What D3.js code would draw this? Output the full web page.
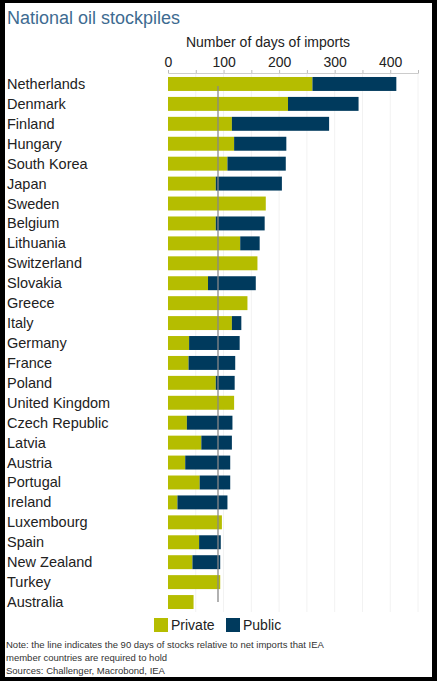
<!DOCTYPE html><html><head><meta charset="utf-8"><script src="https://cdn.jsdelivr.net/npm/d3@7"></script>
<style>body{margin:0;background:#000}svg{display:block;font-family:"Liberation Sans",Arial,sans-serif}</style></head><body><svg id="c" width="437" height="681"></svg>
<script>
const countries=["Netherlands","Denmark","Finland","Hungary","South Korea","Japan","Sweden","Belgium","Lithuania","Switzerland","Slovakia","Greece","Italy","Germany","France","Poland","United Kingdom","Czech Republic","Latvia","Austria","Portugal","Ireland","Luxembourg","Spain","New Zealand","Turkey","Australia"];
const privateDays=[260,216,115,119,107,86,176,86,130,161,72,143,115,38,37,86,119,34,60,31,57,17,97,56,44,94,46];
const publicDays=[151,127,175,94,105,119,0,88,35,0,86,0,17,91,84,34,0,82,55,81,55,90,0,39,50,0,0];
const xTicks=[0,100,200,300,400];
const requirement=90;
const svg=d3.select("#c");
svg.append("rect").attr("x",5).attr("y",3).attr("width",427).attr("height",674).attr("fill","#fff");
svg.append("text").attr("x",7).attr("y",24).attr("font-size",18).attr("fill","#3e6b91").text("National oil stockpiles");
const x=d3.scaleLinear().domain([0,450]).range([168,418]);
const y=d3.scaleBand().domain(countries).range([74,612]).paddingInner(0.3).paddingOuter(0.15);
svg.append("text").attr("x",268).attr("y",47).attr("text-anchor","middle").attr("font-size",14).attr("fill","#222").text("Number of days of imports");
const g=svg.append("g");
d3.range(50,451,50).forEach(v=>g.append("line").attr("x1",x(v)).attr("x2",x(v)).attr("y1",74).attr("y2",612).attr("stroke","#f2f2f2"));
const ax=svg.append("g").attr("transform","translate(0,73)").call(d3.axisTop(x).tickValues(d3.range(0,451,50)).tickSize(3).tickFormat(d=>xTicks.includes(d)?d:""));
ax.select(".domain").attr("stroke","#ccc");ax.selectAll(".tick line").attr("stroke","#bbb");
ax.selectAll("text").attr("font-size",14).attr("fill","#222").attr("font-family","Liberation Sans, Arial");
countries.forEach((c,i)=>{
 svg.append("rect").attr("x",x(0)).attr("y",y(c)).attr("width",x(privateDays[i])-x(0)).attr("height",y.bandwidth()).attr("fill","#b5bd00");
 if(publicDays[i]>0)svg.append("rect").attr("x",x(privateDays[i])).attr("y",y(c)).attr("width",x(privateDays[i]+publicDays[i])-x(privateDays[i])).attr("height",y.bandwidth()).attr("fill","#003a5d");
 svg.append("text").attr("x",7).attr("y",y(c)+y.bandwidth()/2+5).attr("font-size",14.5).attr("fill","#222").text(c);
});
svg.append("line").attr("x1",x(requirement)).attr("x2",x(requirement)).attr("y1",86).attr("y2",602).attr("stroke","#888").attr("stroke-width",1.3);
const lg=[["Private","#b5bd00",154],["Public","#003a5d",226]];
lg.forEach(([t,c,lx])=>{svg.append("rect").attr("x",lx).attr("y",618).attr("width",14).attr("height",14).attr("fill",c);
 svg.append("text").attr("x",lx+17).attr("y",630).attr("font-size",14).attr("fill","#222").text(t);});
["Note: the line indicates the 90 days of stocks relative to net imports that IEA","member countries are required to hold","Sources: Challenger, Macrobond, IEA"].forEach((t,i)=>
 svg.append("text").attr("x",6).attr("y",648+i*13).attr("font-size",9.5).attr("fill","#333").text(t));
</script></body></html>
